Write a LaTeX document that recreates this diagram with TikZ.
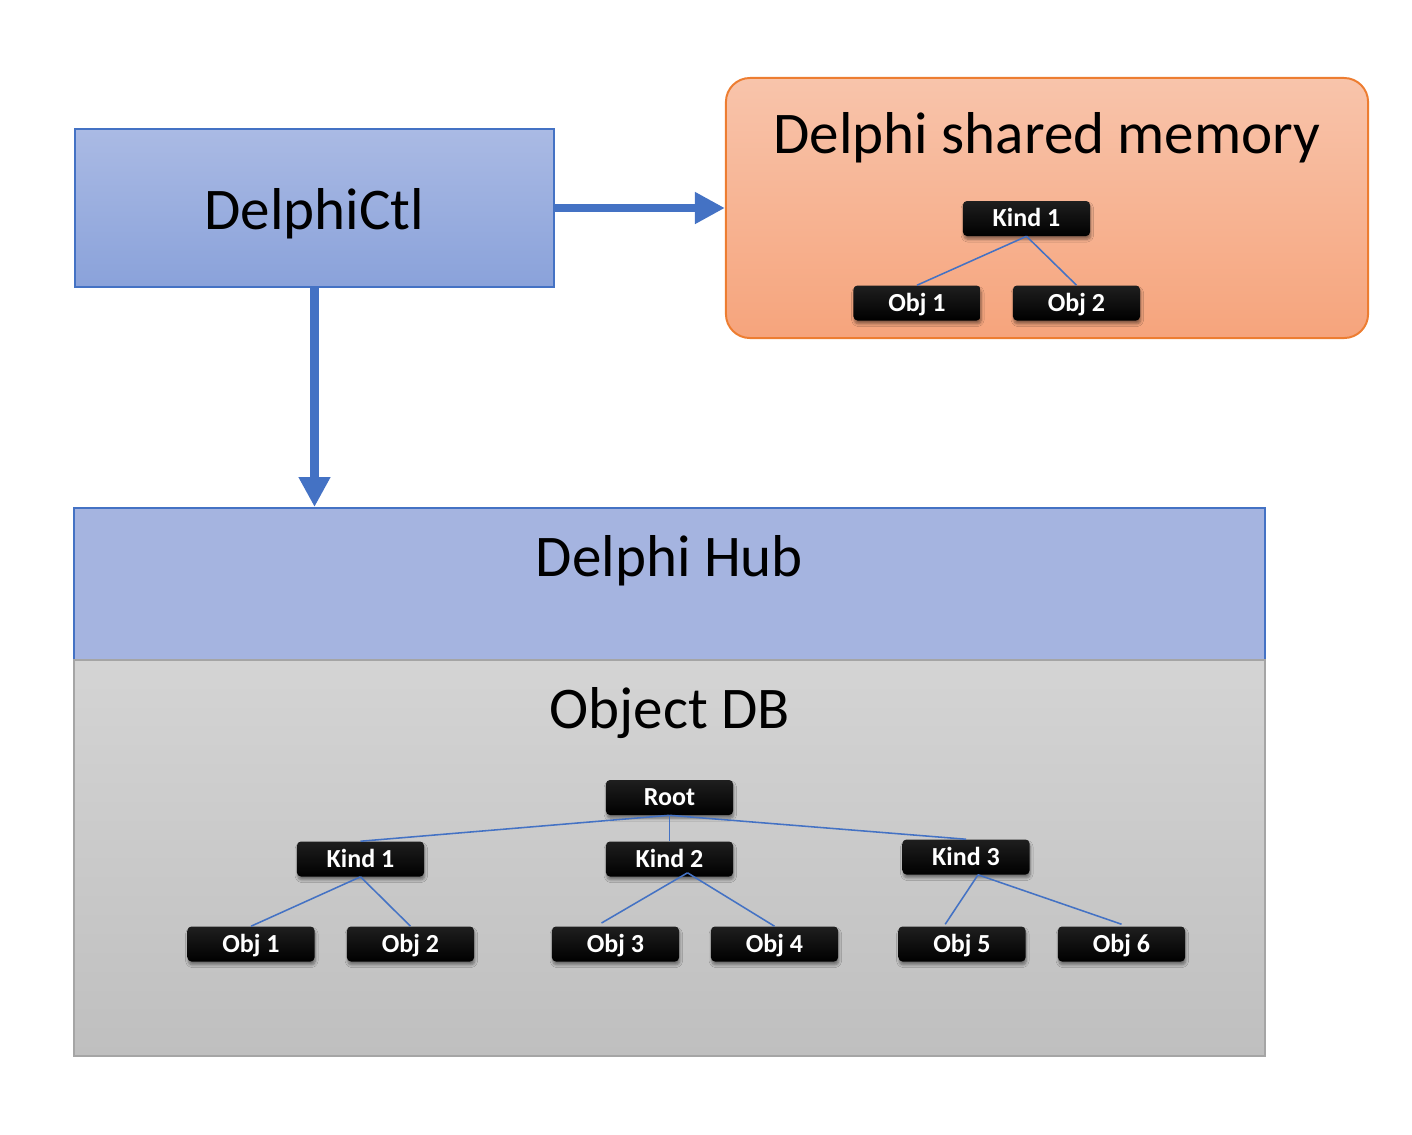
\documentclass[tikz,border=0pt]{standalone}
\usepackage{fontspec}
\setmainfont{Carlito}
\usepackage{xcolor}
\definecolor{msBlue}{HTML}{4472C4}
\definecolor{msOrange}{HTML}{ED7D31}
\definecolor{msGray}{HTML}{A5A5A5}
\definecolor{ctlTop}{HTML}{AABAE4}
\definecolor{ctlBottom}{HTML}{8AA2DA}
\definecolor{hubFill}{HTML}{A5B4E0}
\definecolor{shmTop}{HTML}{F8C4AB}
\definecolor{shmBottom}{HTML}{F6A47C}
\definecolor{dbTop}{HTML}{D4D4D4}
\definecolor{dbBottom}{HTML}{BFBFBF}
\usepackage{tikz}
\usetikzlibrary{arrows.meta, positioning, shadows.blur}

\begin{document}
\begin{tikzpicture}[
    x=0.025cm, y=-0.025cm,
    title/.style={anchor=base, font=\fontsize{42}{50}\selectfont},
    ctlbox/.style={rectangle, draw=msBlue, line width=1.4pt, top color=ctlTop,
                  bottom color=ctlBottom, minimum width=11.975cm, minimum height=3.95cm,
                  inner sep=0pt},
    shmbox/.style={rectangle, rounded corners=0.6cm, draw=msOrange, line width=1.4pt,
                  top color=shmTop, bottom color=shmBottom, minimum width=16.05cm,
                  minimum height=6.5cm, inner sep=0pt},
    hubbox/.style={rectangle, draw=msBlue, line width=1.4pt, fill=hubFill,
                  minimum width=29.775cm, minimum height=3.8cm, inner sep=0pt},
    dbbox/.style ={rectangle, draw=msGray, line width=1.8pt, top color=dbTop,
                  bottom color=dbBottom, minimum width=29.775cm, minimum height=9.9cm,
                  inner sep=0pt},
    leaf/.style  ={rectangle, rounded corners=0.1cm, top color=black!88, bottom color=black,
                  text=white, minimum width=3.175cm, minimum height=0.875cm, inner sep=0pt,
                  text height=12pt, text depth=0pt,
                  font=\fontsize{18.5}{22}\selectfont\bfseries,
                  blur shadow={shadow xshift=0.6pt, shadow yshift=-2.4pt,
                  shadow blur steps=6, shadow opacity=45}},
    link/.style  ={draw=msBlue, line width=1.1pt},
    flow/.style  ={-{Triangle[length=0.75cm, width=0.75cm]}, line width=5.7pt, color=msBlue}
]
\useasboundingbox (0,0) rectangle (1412,1134);

% control box and shared memory
\node[ctlbox] (ctl) at (314.5,208) {};
\node[title] (ctltitle) at (314.5,229) {DelphiCtl};
\node[shmbox] (shm) at (1047,208) {};
\node[title] (shmtitle) at (1047,153) {Delphi shared memory};

\node[leaf] (shmkind) at (1026.5,218.5) {Kind 1};
\node[leaf] (shmobjA) at (917,303) {Obj 1};
\node[leaf] (shmobjB) at (1076.5,303) {Obj 2};
\draw[link] (shmkind.south) -- (shmobjA.north);
\draw[link] (shmkind.south) -- (shmobjB.north);

% hub and object db
\node[hubbox] (hub) at (669.5,584) {};
\node[title] (hubtitle) at (669.5,576) {Delphi Hub};
\node[dbbox] (objdb) at (669.5,858) {};
\node[title] (dbtitle) at (669.5,728) {Object DB};

\node[leaf] (root)  at (669.5,797.5) {Root};
\node[leaf] (kindA) at (360.5,859) {Kind 1};
\node[leaf] (kindB) at (669.5,859) {Kind 2};
\node[leaf] (kindC) at (966,857) {Kind 3};
\node[leaf] (objA) at (251,944) {Obj 1};
\node[leaf] (objB) at (410.5,944) {Obj 2};
\node[leaf] (objC) at (615.5,944) {Obj 3};
\node[leaf] (objD) at (774.5,944) {Obj 4};
\node[leaf] (objE) at (962,944) {Obj 5};
\node[leaf] (objF) at (1121.5,944) {Obj 6};

\draw[link] (root.south) -- (kindA.north);
\draw[link] (root.south) -- (kindB.north);
\draw[link] (root.south) -- (kindC.north);
\draw[link] (kindA.south) -- (objA.north);
\draw[link] (kindA.south) -- (objB.north);
\draw[link] ([xshift=0.45cm,yshift=0.1cm]kindB.south) -- ([xshift=-0.35cm,yshift=0.08cm]objC.north);
\draw[link] ([xshift=0.45cm,yshift=0.1cm]kindB.south) -- (objD.north);
\draw[link] ([xshift=0.3cm]kindC.south) -- ([xshift=-0.42cm,yshift=0.05cm]objE.north);
\draw[link] ([xshift=0.3cm]kindC.south) -- ([yshift=0.05cm]objF.north);

\draw[flow] (ctl.east) -- (shm.west);
\draw[flow] (ctl.south) -- (ctl.south |- hub.north);
\end{tikzpicture}
\end{document}
